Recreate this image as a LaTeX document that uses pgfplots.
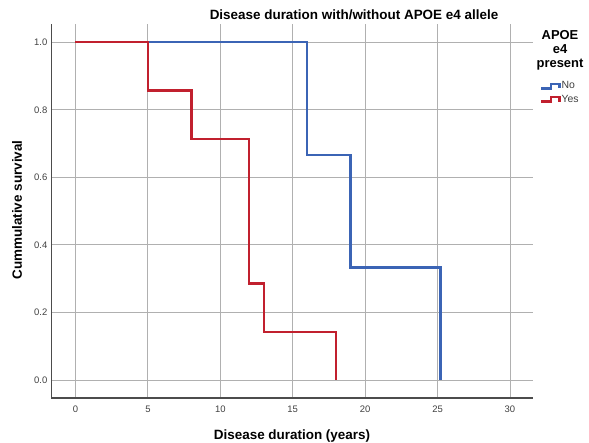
\documentclass[border=0pt]{standalone}
\usepackage{fontspec}
\setmainfont{Liberation Sans}
\usepackage{pgfplots}
\pgfplotsset{compat=1.18}
\definecolor{kmblue}{HTML}{3B64B5}
\definecolor{kmred}{HTML}{C1202E}
\definecolor{gridgray}{HTML}{B0B0B0}
\definecolor{ticktext}{HTML}{404040}
\begin{document}
\begin{tikzpicture}[x=1bp,y=1bp]
\useasboundingbox (-51.3,-45) rectangle (537.7,398);
\begin{axis}[
 at={(0,0)}, anchor=south west,
 scale only axis, width=481.7bp, height=374bp,
 xmin=-1.67, xmax=31.59, ymin=-0.0533, ymax=1.054,
 axis lines=left, axis line style={draw=black!70, line width=1.2bp, -},
 xtick={0,5,...,30}, ytick={0,0.2,0.4,0.6,0.8,1.0},
 grid=major, grid style={gridgray, line width=0.9bp},
 major tick length=0pt,
 tick label style={font=\fontsize{9.5}{10}\selectfont, text=ticktext},
 xticklabel style={yshift=-4bp},
 yticklabel style={xshift=-0.5bp},
 /pgf/number format/assume math mode=true,
 yticklabel style={/pgf/number format/.cd, fixed, fixed zerofill, precision=1},
 clip=false,
 legend style={draw=none, fill=none, at={(1.0145,0.850)}, anchor=north west,
   inner xsep=0pt, inner ysep=0pt, row sep=1.5bp,
   font=\fontsize{10.5}{12}\selectfont, text=ticktext,
   nodes={inner xsep=1bp, inner ysep=1.5bp}},
 legend cell align=left,
 legend image code/.code={\draw[#1, line width=2.4bp] (0bp,-2.3bp)--(9.5bp,-2.3bp)--(9.5bp,2.3bp)--(18bp,2.3bp)--(18bp,-2.3bp);},
]
\addplot[kmblue, line width=2.4bp] coordinates {(0,1) (16,1) (16,0.6667) (19,0.6667) (19,0.3333) (25.2,0.3333) (25.2,0)};
\addlegendentry{No}
\addplot[kmred, line width=2.4bp] coordinates {(0,1) (5,1) (5,0.8571) (8,0.8571) (8,0.7143) (12,0.7143) (12,0.2857) (13,0.2857) (13,0.1429) (18,0.1429) (18,0)};
\addlegendentry{Yes}
\end{axis}
\node[font=\bfseries\fontsize{13.5}{16}\selectfont] at (302.7,383) {Disease duration with/without APOE e4 allele};
\node[font=\bfseries\fontsize{13.5}{16}\selectfont] at (240.7,-38) {Disease duration (years)};
\node[font=\bfseries\fontsize{13.5}{16}\selectfont, rotate=90] at (-34.3,188) {Cummulative survival};
\node[font=\bfseries\fontsize{13}{14}\selectfont, align=center, inner sep=0pt] at (508.7,348) {APOE\\e4\\present};
\end{tikzpicture}
\end{document}
